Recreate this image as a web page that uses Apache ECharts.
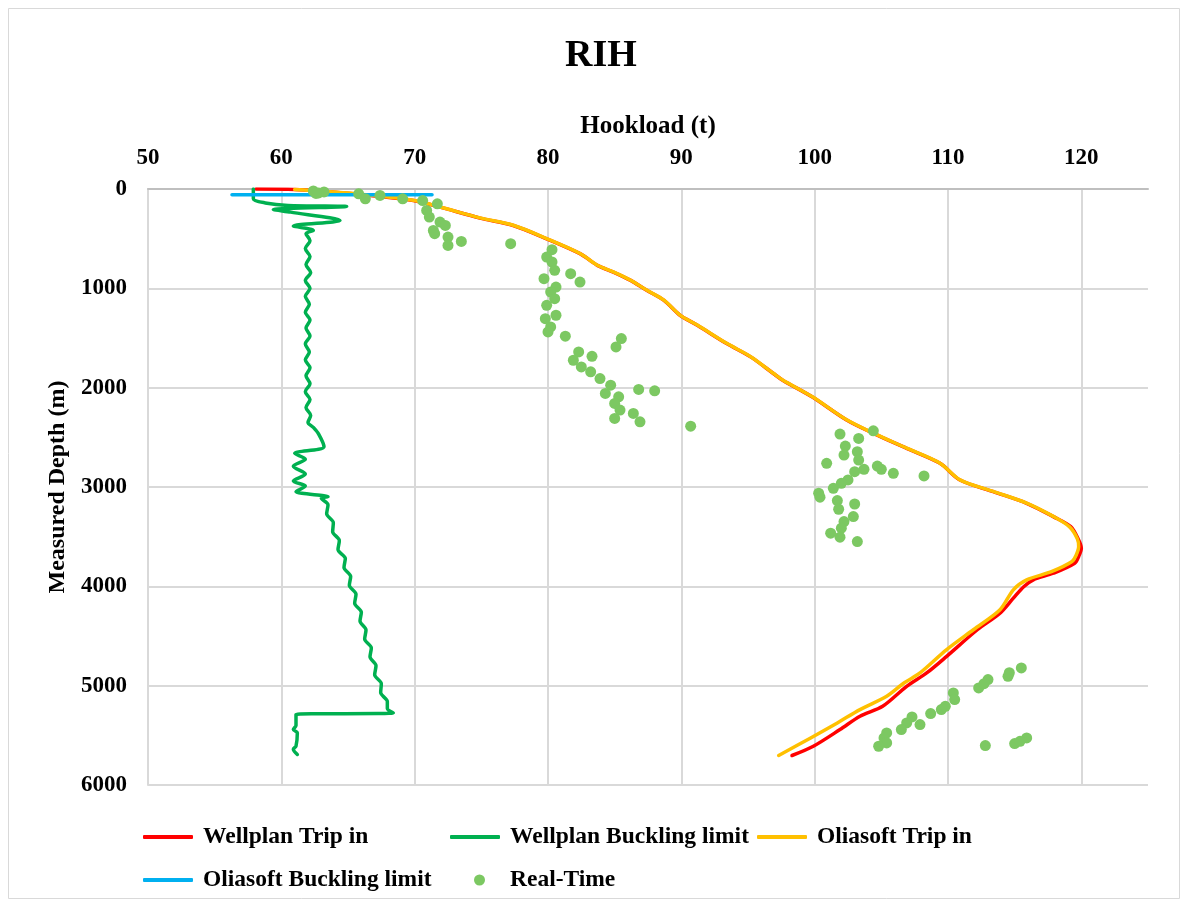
<!DOCTYPE html>
<html>
<head>
<meta charset="utf-8">
<title>RIH</title>
<script src="https://cdn.jsdelivr.net/npm/echarts@6/dist/echarts.min.js"></script>
<style>
  html, body { margin: 0; padding: 0; background: #ffffff; }
  #chart { width: 1187px; height: 907px; }
</style>
</head>
<body>
<div id="chart"></div>
<script>
// Hookload (t) vs measured depth (m), running in hole
const seriesNames = ['Wellplan Trip in', 'Wellplan Buckling limit', 'Oliasoft Trip in', 'Oliasoft Buckling limit', 'Real-Time'];
const xTicks = [50, 60, 70, 80, 90, 100, 110, 120];
const yTicks = [0, 1000, 2000, 3000, 4000, 5000, 6000];

// [hookload, depth]
const wellplanTripIn = [
  [58.1, 0], [61.0, 4], [65.4, 48], [69.9, 116], [71.9, 183], [74.9, 293], [77.4, 367],
  [79.9, 501], [82.4, 651], [83.7, 769], [84.9, 836], [86.2, 920], [87.4, 1020],
  [88.7, 1121], [89.9, 1271], [91.2, 1372], [93.4, 1556], [95.2, 1690], [96.9, 1857],
  [97.6, 1925], [99.8, 2092], [102.4, 2326], [104.4, 2460], [106.9, 2611], [109.4, 2762],
  [110.9, 2930], [113.4, 3047], [115.9, 3164], [117.9, 3298], [119.2, 3399], [119.8, 3533],
  [120.0, 3616], [119.8, 3700], [119.5, 3767], [117.9, 3868], [116.4, 3935], [115.7, 4002],
  [114.9, 4119], [113.9, 4270], [112.2, 4437], [109.9, 4705], [108.4, 4872], [106.9, 5007],
  [105.1, 5208], [103.4, 5308], [101.9, 5442], [99.9, 5610], [98.3, 5703]
];

const oliasoftTripIn = [
  [61.0, 6], [65.4, 46], [69.9, 114], [71.9, 181], [74.9, 291], [77.4, 365],
  [79.9, 499], [82.4, 649], [83.7, 767], [84.9, 834], [86.2, 918], [87.4, 1018],
  [88.7, 1119], [89.9, 1269], [91.2, 1370], [93.4, 1554], [95.2, 1688], [96.9, 1855],
  [97.6, 1923], [99.8, 2090], [102.4, 2324], [104.4, 2458], [106.9, 2609], [109.4, 2760],
  [110.9, 2928], [113.4, 3045], [115.9, 3162], [117.9, 3296], [119.1, 3399], [119.7, 3520],
  [119.8, 3600], [119.6, 3690], [119.3, 3750], [117.8, 3850], [115.9, 3935], [114.9, 4035],
  [113.9, 4236], [111.9, 4437], [109.9, 4637], [107.9, 4872], [106.7, 4973], [105.4, 5107],
  [103.4, 5241], [101.7, 5375], [99.7, 5526], [97.3, 5703]
];

const wellplanBuckling = [
  [57.9, 0], [57.9, 98], [58.8, 140], [60.5, 165], [64.9, 176], [59.4, 207], [60.7, 233],
  [64.4, 317], [60.9, 372], [62.4, 417], [61.85, 450], [62.15, 520], [61.8, 600],
  [62.15, 680], [61.85, 760], [62.2, 840], [61.8, 920], [62.15, 1000], [61.8, 1080],
  [62.1, 1160], [61.8, 1240], [62.15, 1320], [61.85, 1400], [62.15, 1480], [61.8, 1560],
  [62.1, 1640], [61.8, 1720], [62.15, 1800], [61.85, 1880], [62.15, 1960], [61.8, 2040],
  [62.15, 2120], [61.85, 2200], [62.2, 2280], [62.0, 2350], [62.4, 2400], [62.8, 2467],
  [63.2, 2595], [61.0, 2661], [61.8, 2720], [60.9, 2790], [61.8, 2870], [60.9, 2940],
  [61.8, 2990], [61.1, 3047], [63.5, 3097], [63.0, 3113], [63.5, 3180], [63.4, 3270],
  [63.9, 3360], [63.85, 3450], [64.35, 3540], [64.25, 3630], [64.8, 3720], [64.7, 3810],
  [65.2, 3900], [65.1, 3990], [65.6, 4080], [65.5, 4170], [66.0, 4260], [65.9, 4350],
  [66.35, 4440], [66.25, 4530], [66.75, 4620], [66.65, 4710], [67.1, 4800], [67.0, 4890],
  [67.5, 4980], [67.45, 5070], [67.95, 5160], [67.95, 5230], [68.4, 5274], [61.1, 5290],
  [61.1, 5400], [60.9, 5442], [61.2, 5475], [61.1, 5608], [60.9, 5640], [61.2, 5693]
];

const oliasoftBuckling = [
  [56.3, 58], [71.3, 58]
];

const realTime = [
  [62.4, 20], [62.8, 40], [63.2, 30], [62.6, 45], [65.8, 48], [66.3, 99], [67.4, 65],
  [69.1, 99], [70.6, 116], [71.7, 149], [70.9, 216], [71.1, 283], [71.9, 333],
  [71.4, 417], [71.5, 450], [72.3, 367], [72.5, 484], [72.5, 568], [73.5, 528],
  [77.2, 551], [80.3, 611], [79.9, 685], [80.3, 735], [80.5, 819], [81.7, 852],
  [82.4, 937], [79.7, 903], [80.6, 987], [80.2, 1037], [80.5, 1104], [79.9, 1171],
  [80.6, 1271], [79.8, 1305], [80.2, 1389], [80.0, 1439], [81.3, 1482], [85.5, 1506],
  [85.1, 1590], [82.3, 1640], [81.9, 1724], [83.3, 1684], [82.5, 1791], [83.2, 1841],
  [83.9, 1908], [84.7, 1975], [84.3, 2058], [85.3, 2092], [86.8, 2018], [88.0, 2032],
  [85.0, 2159], [85.4, 2226], [86.4, 2259], [85.0, 2310], [86.9, 2344], [90.7, 2388],
  [104.4, 2434], [101.9, 2467], [103.3, 2511], [102.3, 2588], [103.2, 2645], [102.2, 2678],
  [103.3, 2729], [100.9, 2762], [104.7, 2789], [105.0, 2822], [105.9, 2862], [108.2, 2889],
  [103.7, 2822], [103.0, 2846], [102.5, 2929], [102.0, 2963], [101.4, 3013], [100.3, 3063],
  [100.4, 3103], [101.7, 3137], [103.0, 3171], [101.8, 3224], [102.9, 3298], [102.2, 3348],
  [102.0, 3415], [101.2, 3465], [101.9, 3505], [103.2, 3549],
  [115.5, 4822], [114.5, 4906], [114.6, 4870], [113.0, 4939], [112.3, 5023], [112.7, 4980],
  [110.4, 5073], [110.5, 5140], [109.5, 5241], [109.8, 5208], [108.7, 5281], [107.9, 5392],
  [107.3, 5315], [106.9, 5375], [106.5, 5442], [105.4, 5476], [105.2, 5526], [105.4, 5576],
  [104.8, 5610], [112.8, 5603], [115.0, 5583], [115.9, 5526], [115.4, 5560]
];

const FONT = '"Liberation Serif", "Times New Roman", serif';
const GRID_COLOR = '#D9D9D9';
const lineColors = ['#FF0000', '#00B050', '#FFC000', '#00B0F0'];
const dotColor = '#7CC862';

// vertical grid lines at the labelled ticks only (none at the 125 edge)
const xGridColors = xTicks.map(function () { return GRID_COLOR; }).concat(['rgba(0,0,0,0)']);

const chart = echarts.init(document.getElementById('chart'), null, { renderer: 'canvas' });

function lineSeries(name, data, color, z) {
  return {
    name: name,
    type: 'line',
    data: data,
    showSymbol: false,
    symbol: 'none',
    smooth: 0.3,
    z: z,
    lineStyle: { color: color, width: 3.5, cap: 'round', join: 'round' },
    itemStyle: { color: color },
    emphasis: { disabled: true },
    animation: false
  };
}

const legendText = { fontFamily: FONT, fontWeight: 'bold', fontSize: 23.5, color: '#000' };
function legendAt(name, left, top, isDot) {
  return {
    data: [name],
    left: left,
    top: top,
    icon: isDot ? 'circle' : 'roundRect',
    itemWidth: isDot ? 11 : 50,
    itemHeight: isDot ? 11 : 4,
    textStyle: Object.assign({ padding: [0, 0, 0, isDot ? 20 : 5] }, legendText),
    selectedMode: false
  };
}

const option = {
  backgroundColor: '#ffffff',
  animation: false,
  title: {
    text: 'RIH',
    left: 560,
    top: 32,
    textStyle: { fontFamily: FONT, fontWeight: 'bold', fontSize: 38, color: '#000' }
  },
  graphic: [{
    type: 'rect',
    shape: { x: 8.5, y: 8.5, width: 1171, height: 890 },
    style: { fill: 'none', stroke: '#D9D9D9', lineWidth: 1 },
    silent: true,
    z: -10
  }],
  legend: [
    legendAt(seriesNames[0], 138, 820, false),
    legendAt(seriesNames[1], 445, 820, false),
    legendAt(seriesNames[2], 752, 820, false),
    legendAt(seriesNames[3], 138, 863, false),
    legendAt(seriesNames[4], 469, 863, true)
  ],
  grid: { left: 148, top: 189, right: 39, bottom: 122, containLabel: false },
  xAxis: {
    type: 'value',
    position: 'top',
    min: 50,
    max: 125,
    interval: 10,
    name: 'Hookload (t)',
    nameLocation: 'middle',
    nameGap: 50,
    nameTextStyle: { fontFamily: FONT, fontWeight: 'bold', fontSize: 25, color: '#000' },
    axisLine: { show: true, lineStyle: { color: '#BFBFBF', width: 2 } },
    axisTick: { show: false },
    axisLabel: {
      margin: 19,
      fontFamily: FONT, fontWeight: 'bold', fontSize: 23, color: '#000',
      formatter: function (v) { return xTicks.indexOf(v) >= 0 ? String(v) : ''; }
    },
    splitLine: { show: true, lineStyle: { color: xGridColors, width: 2 } }
  },
  yAxis: {
    type: 'value',
    inverse: true,
    min: 0,
    max: 6000,
    interval: 1000,
    name: 'Measured Depth (m)',
    nameLocation: 'middle',
    nameGap: 78,
    nameRotate: 90,
    nameTextStyle: { fontFamily: FONT, fontWeight: 'bold', fontSize: 24, color: '#000' },
    axisLine: { show: true, lineStyle: { color: GRID_COLOR, width: 2 } },
    axisTick: { show: false },
    axisLabel: {
      margin: 21,
      fontFamily: FONT, fontWeight: 'bold', fontSize: 23, color: '#000',
      formatter: function (v) { return yTicks.indexOf(v) >= 0 ? String(v) : ''; }
    },
    splitLine: { show: true, lineStyle: { color: GRID_COLOR, width: 2 } }
  },
  series: [
    lineSeries(seriesNames[0], wellplanTripIn, lineColors[0], 2),
    lineSeries(seriesNames[1], wellplanBuckling, lineColors[1], 3),
    lineSeries(seriesNames[2], oliasoftTripIn, lineColors[2], 4),
    lineSeries(seriesNames[3], oliasoftBuckling, lineColors[3], 5),
    {
      name: seriesNames[4],
      type: 'scatter',
      data: realTime,
      symbol: 'circle',
      symbolSize: 11,
      z: 6,
      itemStyle: { color: dotColor, opacity: 1 },
      emphasis: { disabled: true },
      animation: false
    }
  ]
};

chart.setOption(option);
</script>
</body>
</html>
